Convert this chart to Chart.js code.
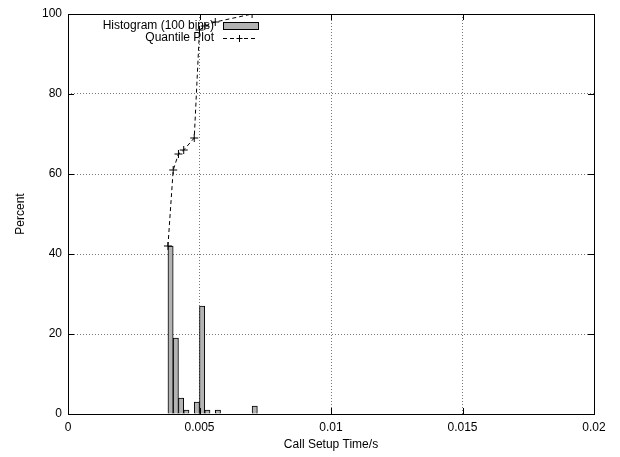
<!DOCTYPE html>
<html>
<head>
<meta charset="utf-8">
<script src="https://cdn.jsdelivr.net/npm/chart.js@4/dist/chart.umd.min.js"></script>
<style>
html, body { margin: 0; padding: 0; background: #fff; }
#wrap { width: 620px; height: 457px; }
</style>
</head>
<body>
<div id="wrap"><canvas id="myChart" width="620" height="457"></canvas></div>
<script>
// histogram: bin centres (s) and percent of calls per bin
var binCentres = [0.0039, 0.0041, 0.0043, 0.0045, 0.0049, 0.0051, 0.0053, 0.0057, 0.0071];
var binPercent = [42, 19, 4, 1, 3, 27, 1, 1, 2];

// quantile plot, cumulative percent
var quantTimes = [0.0038, 0.0040, 0.0042, 0.0044, 0.0048, 0.0050, 0.0052, 0.0056, 0.0070];
var quantPercent = [42, 61, 65, 66, 69, 96, 97, 98, 100];

var xMin = 0, xMax = 0.02, xStep = 0.005;
var yMin = 0, yMax = 100, yStep = 20;

var FONT = "'Liberation Sans', Arial, Helvetica, sans-serif";
var barFill = '#b3b3b3';

function toPoints(xs, ys) {
    return xs.map((x, i) => ({x: x, y: ys[i]}));
}

// gnuplot style frame, inward ticks and key
var gnuplotFrame = {
    id: 'gnuplotFrame',
    afterDraw(chart) {
        let ctx = chart.ctx;
        let a = chart.chartArea;
        let xs = chart.scales.x, ys = chart.scales.y;
        ctx.save();
        ctx.strokeStyle = '#000';
        ctx.lineWidth = 1;
        ctx.setLineDash([]);
        ctx.strokeRect(a.left + 0.5, a.top + 0.5, a.right - a.left, a.bottom - a.top);
        ctx.beginPath();
        xs.ticks.forEach(t => {
            let px = Math.round(xs.getPixelForValue(t.value)) + 0.5;
            ctx.moveTo(px, a.bottom); ctx.lineTo(px, a.bottom - 6);
            ctx.moveTo(px, a.top); ctx.lineTo(px, a.top + 6);
        });
        ys.ticks.forEach(t => {
            let py = Math.round(ys.getPixelForValue(t.value)) + 0.5;
            ctx.moveTo(a.left, py); ctx.lineTo(a.left + 6, py);
            ctx.moveTo(a.right, py); ctx.lineTo(a.right - 6, py);
        });
        ctx.stroke();

        // key
        let keyX = 214, sx0 = 223, sx1 = 258;
        let y1 = 25.5, y2 = 38;
        ctx.font = '12px ' + FONT;
        ctx.fillStyle = '#000';
        ctx.textAlign = 'right';
        ctx.textBaseline = 'middle';
        ctx.fillText('Histogram (100 bins)', keyX, y1);
        ctx.fillText('Quantile Plot', keyX, y2);
        ctx.fillStyle = barFill;
        ctx.fillRect(sx0, 22, sx1 - sx0, 7);
        ctx.strokeRect(sx0 + 0.5, 22.5, sx1 - sx0, 7);
        ctx.setLineDash([4, 3]);
        ctx.beginPath();
        ctx.moveTo(sx0, y2 + 0.5); ctx.lineTo(sx1, y2 + 0.5);
        ctx.stroke();
        ctx.setLineDash([]);
        let cx = 239.5;
        ctx.beginPath();
        ctx.moveTo(cx - 3, y2 + 0.5); ctx.lineTo(cx + 3, y2 + 0.5);
        ctx.moveTo(cx, y2 - 3); ctx.lineTo(cx, y2 + 4);
        ctx.stroke();
        ctx.restore();
    }
};

let ctx = document.getElementById('myChart').getContext('2d');
let myChart = new Chart(ctx, {
    type: 'bar',
    data: {
        datasets: [{
            type: 'line',
            label: 'Quantile Plot',
            data: toPoints(quantTimes, quantPercent),
            borderColor: '#000',
            borderWidth: 1,
            borderDash: [4, 3],
            fill: false,
            tension: 0,
            pointStyle: 'cross',
            pointRadius: 4,
            pointBorderColor: '#000',
            pointBorderWidth: 1,
            order: 0
        }, {
            type: 'bar',
            label: 'Histogram (100 bins)',
            data: toPoints(binCentres, binPercent),
            backgroundColor: barFill,
            borderColor: '#000',
            borderWidth: 1,
            barPercentage: 1,
            categoryPercentage: 1,
            grouped: false,
            order: 1
        }]
    },
    options: {
        responsive: false,
        animation: false,
        layout: { padding: { top: 14, right: 26, left: 0, bottom: 0 } },
        plugins: {
            legend: { display: false },
            tooltip: { enabled: false }
        },
        scales: {
            x: {
                type: 'linear',
                min: xMin, max: xMax,
                offset: false,
                afterFit: s => { s.height = 43; },
                ticks: {
                    stepSize: xStep,
                    padding: 6,
                    color: '#000',
                    font: { family: FONT, size: 12 },
                    callback: v => String(+v.toFixed(3))
                },
                grid: {
                    offset: false,
                    drawTicks: false,
                    color: c => (c.tick && (c.tick.value === xMin || c.tick.value === xMax)) ? 'transparent' : '#777',
                    lineWidth: 1
                },
                border: { display: false, dash: [1, 2] },
                title: {
                    display: true,
                    text: 'Call Setup Time/s',
                    color: '#000',
                    font: { family: FONT, size: 12 },
                    padding: { top: 0, bottom: 5 }
                }
            },
            y: {
                min: yMin, max: yMax,
                afterFit: s => { s.width = 68; },
                ticks: {
                    stepSize: yStep,
                    padding: 6,
                    color: '#000',
                    font: { family: FONT, size: 12 }
                },
                grid: {
                    drawTicks: false,
                    color: c => (c.tick && (c.tick.value === yMin || c.tick.value === yMax)) ? 'transparent' : '#777',
                    lineWidth: 1
                },
                border: { display: false, dash: [1, 2] },
                title: {
                    display: true,
                    text: 'Percent',
                    color: '#000',
                    font: { family: FONT, size: 12 },
                    padding: { top: 13, bottom: 0 }
                }
            }
        }
    },
    plugins: [gnuplotFrame]
});
</script>
</body>
</html>
